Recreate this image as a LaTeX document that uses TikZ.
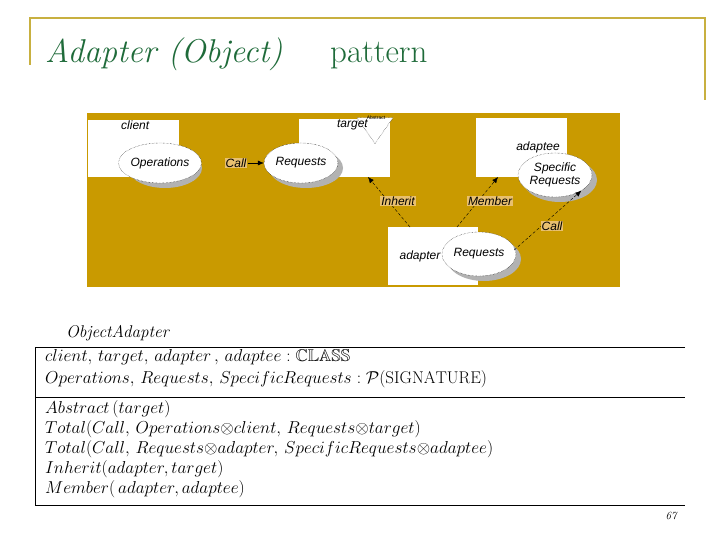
\documentclass[tikz,border=0pt]{standalone}
\usepackage{fontspec}
\usepackage{amssymb}
\newfontfamily\diafont{Liberation Sans}
\usetikzlibrary{shapes.geometric,arrows.meta}
\definecolor{gold}{HTML}{C99A00}
\definecolor{frame}{HTML}{C8B040}
\definecolor{titlegreen}{HTML}{1F6B3A}
\definecolor{lbl}{HTML}{E8C070}
\tikzset{
  cls/.style={draw=none,fill=white,minimum width=#1,minimum height=58pt,inner sep=0pt},
  ell/.style={ellipse,draw,densely dotted,fill=white,minimum width=74pt,minimum height=40pt,inner sep=0pt,font=\diafont\itshape\fontsize{12}{13}\selectfont,align=center},
  shad/.style={ellipse,fill=gray!60,minimum width=74pt,minimum height=40pt},
  dia/.style={font=\diafont\itshape\fontsize{12}{13}\selectfont,inner sep=1pt},
  tag/.style={dia,fill=lbl},
  rel/.style={densely dashed,-{Latex[length=6pt,width=5pt]}},
  zt/.style={anchor=west,font=\fontsize{17}{19}\selectfont,inner sep=0pt}
}
\begin{document}
\begin{tikzpicture}[x=1pt,y=-1pt]
\useasboundingbox (0,0) rectangle (720,540);
\fill[white] (0,0) rectangle (720,540);
% title frame
\draw[frame,line width=1.2pt] (30,65) -- (30,18) -- (705,18) -- (705,100);
\node[anchor=base west,text=titlegreen,font=\fontsize{33}{37}\selectfont\itshape,inner sep=0pt] (title) at (45,63) {Adapter (Object)};
\node[anchor=base west,text=titlegreen,font=\fontsize{33}{37}\selectfont,inner sep=0pt] (pat) at (330,63) {pattern};
% gold panel
\fill[gold] (87,113) rectangle (620,287);
% class boxes
\node[cls=91pt,minimum height=57pt] (client) at (133.5,148.5) {};
\node[dia,anchor=north west] (clientl) at (120,120) {client};
\node[cls=91pt] (target) at (344.5,148) {};
\node[isosceles triangle,shape border rotate=-90,draw,densely dotted,fill=white,minimum width=28pt,minimum height=26pt,inner sep=0pt,isosceles triangle apex angle=70] (abs) at (375,127) {};
\node[font=\diafont\fontsize{5}{5}\selectfont,inner sep=0pt] (absl) at (376,118) {Abstract};
\node[dia,anchor=north east] (targetl) at (369,119) {target};
\node[cls=91pt,minimum height=59pt] (adaptee) at (521.5,147.5) {};
\node[dia] (adapteel) at (538,147) {adaptee};
\node[cls=90pt] (adapter) at (433,256) {};
\node[dia] (adapterl) at (420,256) {adapter};
% ellipses with shadows
\node[shad] at (165,168) {};
\node[ell] (ops) at (160,163) {Operations};
\node[shad] at (306,168) {};
\node[ell] (req) at (301,163) {Requests};
\node[shad,minimum height=44pt] at (560,180) {};
\node[ell,minimum height=44pt] (spec) at (555,175) {Specific\\Requests};
\node[shad,minimum height=44pt] at (484,259) {};
\node[ell,minimum height=44pt] (req2) at (479,254) {Requests};
% connectors
\node[tag] (call1) at (236,163) {Call};
\draw[-{Latex[length=6pt,width=5pt]}] (call1) -- (req);
\coordinate (inhS) at (410,227);
\coordinate (inhE) at (368,177);
\draw[rel] (inhS) -- (inhE);
\node[tag] at (398,201) {Inherit};
\coordinate (memS) at (457,227);
\coordinate (memE) at (498,177);
\draw[rel] (memS) -- (memE);
\node[tag] at (490,201) {Member};
\draw[rel] (req2.east) ++(-2,-4) coordinate (c2s) -- (spec.south east);
\node[tag] at (552,226) {Call};
% schema
\node[anchor=base west,font=\fontsize{17}{19}\selectfont\itshape,inner sep=0pt] (sname) at (66,337) {ObjectAdapter};
\draw (685,347) -- (35,347) -- (35,505) -- (685,505);
\draw (35,397) -- (685,397);
\node[zt] at (45,357) {$client,\,target,\,adapter\,,\,adaptee:\mathbb{CLASS}$};
\node[zt] at (45,379) {$Operations,\,Requests,\,SpecificRequests:\mathcal{P}(\mathrm{SIGNATURE})$};
\node[zt] at (45,409) {$Abstract\,(target)$};
\node[zt] at (45,429) {$Total(Call,\,Operations{\otimes}client,\,Requests{\otimes}target)$};
\node[zt] at (45,449) {$Total(Call,\,Requests{\otimes}adapter,\,SpecificRequests{\otimes}adaptee)$};
\node[zt] at (45,469) {$Inherit(adapter,target)$};
\node[zt] at (45,489) {$Member(\,adapter,adaptee)$};
\node[font=\fontsize{11}{12}\selectfont\itshape,inner sep=0pt] (pg) at (671,516) {67};
\end{tikzpicture}
\end{document}
